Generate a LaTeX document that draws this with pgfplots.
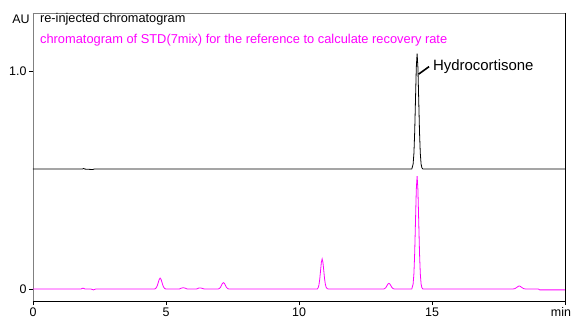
\documentclass[border=0pt]{standalone}
\usepackage{pgfplots}
\pgfplotsset{compat=1.18}
\usepackage{fontspec}
\setmainfont{Liberation Sans}
\definecolor{mag}{RGB}{255,0,255}
\begin{document}
\begin{tikzpicture}
\begin{axis}[
  scale only axis,
  width=532bp, height=288bp,
  xmin=0, xmax=20, ymin=-0.055, ymax=1.266,
  xtick={0,5,10,15,20},
  xticklabels={0,5,10,15,{\hspace*{-8bp}min}},
  ytick={0,1},
  yticklabels={0,1.0},
  xtick pos=bottom, ytick pos=left,
  tick align=outside,
  major tick length=4bp,
  tick style={black, line width=0.6pt},
  tick label style={font=\fontsize{12.5}{13}\selectfont},
  xticklabel style={yshift=1pt},
  yticklabel style={xshift=1pt},
  axis line style={line width=0.8pt},
  separate axis lines,
  x axis line style={black},
  y axis line style={gray},
  clip=false,
]
% black trace: re-injected
\addplot[black, line width=0.8pt] coordinates {
(0,0.55)(1.85,0.55)(1.9,0.553)(1.95,0.55)(2.25,0.548)(2.3,0.55)
(14.24,0.550)(14.29,0.573)(14.32,0.622)(14.35,0.722)(14.38,0.872)(14.41,1.017)
(14.44,1.080)(14.47,1.017)(14.50,0.872)(14.53,0.722)(14.56,0.622)(14.59,0.573)
(14.62,0.556)(14.66,0.550)(20,0.55)
};
% magenta trace: STD 7mix
\addplot[mag, line width=0.8pt] coordinates {
(0,0)(1.80,0)(1.88,0.004)(1.96,0)(2.18,0)(2.27,-0.004)(2.36,0)
(4.57,0)(4.605,0.002)(4.64,0.007)(4.675,0.016)(4.71,0.030)(4.745,0.044)(4.78,0.05)
(4.815,0.044)(4.85,0.030)(4.885,0.016)(4.92,0.007)(4.955,0.002)(5.0,0)
(5.5,0)(5.58,0.004)(5.65,0.006)(5.72,0.004)(5.8,0)
(6.15,0)(6.22,0.004)(6.29,0.005)(6.36,0.003)(6.44,0)
(6.95,0)(6.985,0.001)(7.02,0.004)(7.055,0.009)(7.09,0.018)(7.125,0.026)(7.16,0.029)
(7.195,0.026)(7.23,0.018)(7.265,0.009)(7.30,0.004)(7.335,0.001)(7.38,0)
(10.69,0)(10.72,0.006)(10.75,0.019)(10.78,0.045)(10.81,0.084)(10.84,0.122)(10.87,0.138)
(10.90,0.122)(10.93,0.086)(10.96,0.048)(10.99,0.022)(11.02,0.008)(11.06,0.002)(11.10,0)
(13.17,0)(13.205,0.001)(13.24,0.0035)(13.275,0.0085)(13.31,0.016)(13.345,0.023)(13.38,0.026)
(13.415,0.023)(13.45,0.016)(13.485,0.0085)(13.52,0.0035)(13.555,0.001)(13.60,0)
(14.24,0)(14.29,0.023)(14.32,0.070)(14.35,0.168)(14.38,0.314)(14.41,0.457)(14.44,0.518)
(14.47,0.457)(14.50,0.314)(14.53,0.168)(14.56,0.070)(14.59,0.023)(14.62,0.006)(14.66,0)
(18.04,0)(18.12,0.002)(18.20,0.0085)(18.24,0.012)(18.28,0.014)(18.32,0.012)(18.36,0.0085)(18.44,0.002)(18.52,0)
(19.0,0)(19.05,-0.004)(20,-0.004)
};
% top and right frame
\draw[gray, line width=0.8pt] (rel axis cs:0,1) -- (rel axis cs:1,1);
\draw[black, line width=0.8pt] (rel axis cs:1,1) -- (rel axis cs:1,0);
% texts
\node[anchor=east, font=\fontsize{12.5}{13}\selectfont, inner sep=1pt] at (rel axis cs:-0.004,0.979) {AU};
\node[anchor=west, font=\fontsize{12.8}{13}\selectfont, inner sep=0pt] at (rel axis cs:0.013,0.979) {re-injected chromatogram};
\node[anchor=west, font=\fontsize{12.9}{13}\selectfont, text=mag, inner sep=0pt] at (rel axis cs:0.013,0.906) {chromatogram of STD(7mix) for the reference to calculate recovery rate};
\draw[black, line width=1.6pt] (axis cs:14.49,0.985) -- (axis cs:14.89,1.02);
\node[anchor=west, font=\fontsize{15}{16}\selectfont, inner sep=0pt] at (axis cs:15.03,1.018) {Hydrocortisone};
\end{axis}
\pgfresetboundingbox
\path ([xshift=-33bp,yshift=-19bp]current axis.south west) rectangle ([xshift=8bp,yshift=13bp]current axis.north east);
\end{tikzpicture}
\end{document}
